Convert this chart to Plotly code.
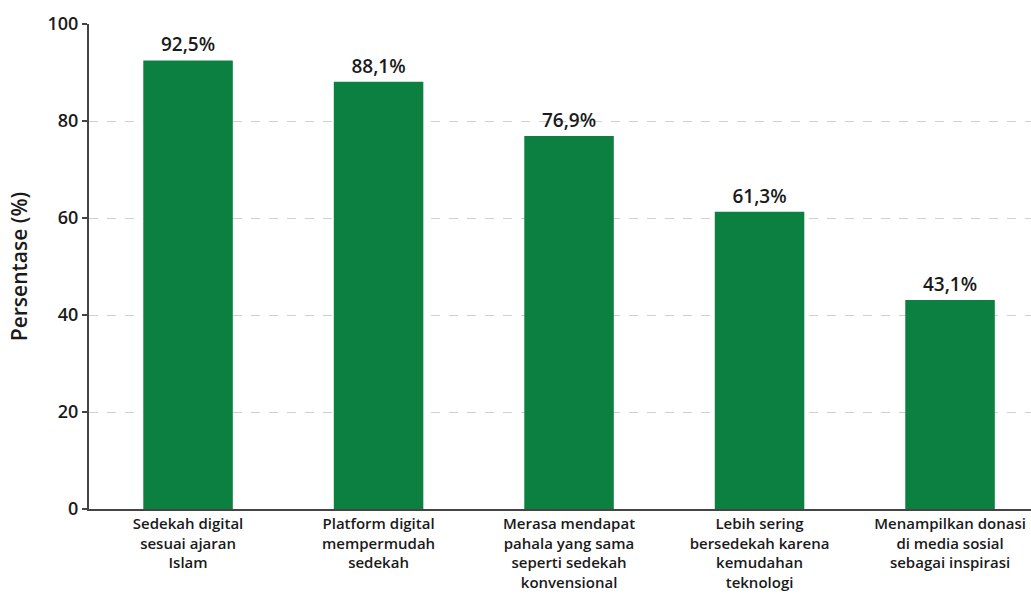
import plotly.graph_objects as go

categories = [
    "Sedekah digital<br>sesuai ajaran<br>Islam",
    "Platform digital<br>mempermudah<br>sedekah",
    "Merasa mendapat<br>pahala yang sama<br>seperti sedekah<br>konvensional",
    "Lebih sering<br>bersedekah karena<br>kemudahan<br>teknologi",
    "Menampilkan donasi<br>di media sosial<br>sebagai inspirasi",
]
values = [92.5, 88.1, 76.9, 61.3, 43.1]
labels = [f"{v:.1f}".replace(".", ",") + "%" for v in values]
y_ticks = [0, 20, 40, 60, 80, 100]

FONT = "Open Sans"
fig = go.Figure(go.Bar(
    x=list(range(len(categories))),
    y=values,
    text=labels,
    textposition="outside",
    texttemplate="%{text}",
    textfont=dict(family=FONT, size=19, color="#1a1a1a", weight=600),
    marker=dict(color="#0c8040", line=dict(width=0)),
    width=0.47,
    cliponaxis=False,
))

fig.update_layout(
    width=1031, height=599,
    margin=dict(l=89, r=0, t=24, b=90),
    paper_bgcolor="white", plot_bgcolor="white",
    showlegend=False,
    font=dict(family=FONT, color="#1a1a1a"),
    xaxis=dict(
        tickvals=list(range(len(categories))),
        ticktext=categories,
        range=[-0.52, 4.425],
        showgrid=False,
        showline=True, linecolor="#444", linewidth=2,
        ticks="", tickfont=dict(family=FONT, size=15, color="#1a1a1a", weight=600),
        zeroline=False,
    ),
    yaxis=dict(
        range=[0, 100],
        tickvals=y_ticks,
        showgrid=True, gridcolor="#d0d0d0", griddash="dash", gridwidth=1,
        showline=True, linecolor="#444", linewidth=2,
        ticks="outside", ticklen=5, tickcolor="#444", tickwidth=1.5,
        tickfont=dict(family=FONT, size=18, color="#1a1a1a", weight=600),
        title=dict(text="Persentase (%)", font=dict(family=FONT, size=21, color="#1a1a1a", weight=600), standoff=14),
        zeroline=False,
    ),
)

fig.write_html(
    "out.html",
    config={"displayModeBar": False},
    post_script="document.body.style.margin='0';document.body.style.overflow='hidden';",
)
